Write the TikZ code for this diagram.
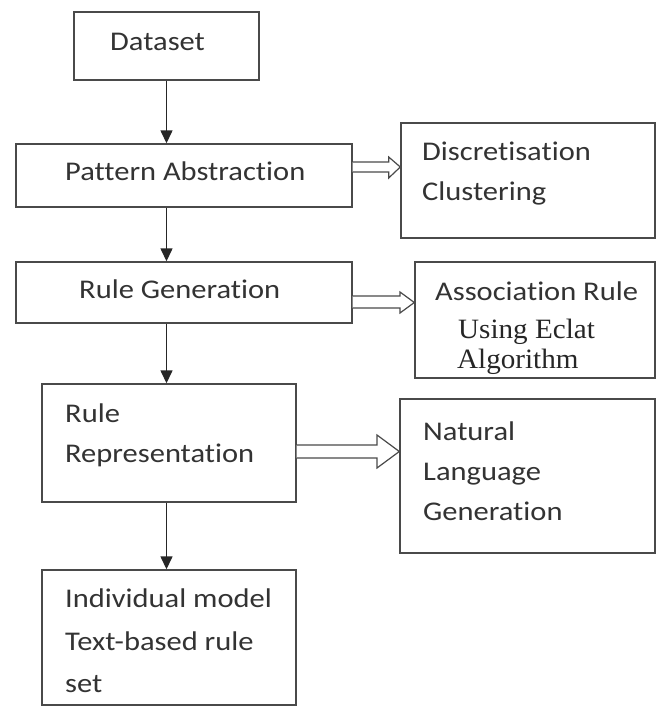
\documentclass[tikz,border=0pt]{standalone}
\usepackage{fontspec}
\setmainfont{Carlito}[Ligatures=NoCommon, FakeStretch=1.13]
\newfontfamily\timesf{Liberation Serif}[FakeStretch=1.04]
\usetikzlibrary{arrows.meta,calc}
\definecolor{boxline}{HTML}{4A4A4A}
\definecolor{txt}{HTML}{333333}
\tikzset{
  box/.style={draw=boxline, line width=1.4pt, fill=white, inner sep=0pt},
  lbl/.style={anchor=base west, inner sep=0pt, text=txt, font=\fontsize{27}{32}\selectfont},
  tlbl/.style={anchor=base west, inner sep=0pt, text=black!85, font=\timesf\fontsize{28}{32}\selectfont},
  flow/.style={draw=black!85, line width=1.4pt, -{Triangle[length=13pt,width=12pt]}},
  hollow/.style={draw=boxline, line width=1.2pt, fill=white, line join=miter}
}
\begin{document}
\begin{tikzpicture}[x=1pt,y=-1pt]
\useasboundingbox (0,0) rectangle (658,707);
\fill[white] (0,0) rectangle (658,707);
% boxes
\node[box, minimum width=185pt, minimum height=68pt] (ds) at (166.5,46) {};
\node[box, minimum width=336pt, minimum height=63pt] (pa) at (184,175.5) {};
\node[box, minimum width=336pt, minimum height=61pt] (rg) at (184,292.5) {};
\node[box, minimum width=254pt, minimum height=118pt] (rr) at (169,443) {};
\node[box, minimum width=254pt, minimum height=135pt] (im) at (169,637.5) {};
\node[box, minimum width=254pt, minimum height=115pt] (dc) at (528,180.5) {};
\node[box, minimum width=240pt, minimum height=116pt] (ar) at (535,320) {};
\node[box, minimum width=255pt, minimum height=154pt] (nl) at (527.5,476) {};
% texts
\node[lbl] (t1) at (110,50) {Dataset};
\node[lbl] (t2) at (65,180) {Pattern Abstraction};
\node[lbl] (t3) at (79,298) {Rule Generation};
\node[lbl] (t4a) at (65,422) {Rule};
\node[lbl] (t4b) at (65,462) {Representation};
\node[lbl] (t5a) at (65,607) {Individual model};
\node[lbl] (t5b) at (65,650) {Text-based rule};
\node[lbl] (t5c) at (65,692) {set};
\node[lbl] (t6a) at (422,160) {Discretisation};
\node[lbl] (t6b) at (422,200) {Clustering};
\node[lbl] (t7a) at (435,300) {Association Rule};
\node[tlbl] (t7b) at (458,338) {Using Eclat};
\node[tlbl] (t7c) at (457,368) {Algorithm};
\node[lbl] (t8a) at (423,440) {Natural};
\node[lbl] (t8b) at (423,480) {Language};
\node[lbl] (t8c) at (423,520) {Generation};
% vertical flow arrows
\draw[flow] (ds.south) -- (ds.south |- pa.north);
\draw[flow] (ds.south |- pa.south) -- (ds.south |- rg.north);
\draw[flow] (ds.south |- rg.south) -- (ds.south |- rr.north);
\draw[flow] (ds.south |- rr.south) -- (ds.south |- im.north);
% hollow block arrows
\draw[hollow] ($(pa.east)+(0,-13.5)$) -- ($(pa.east)+(36,-13.5)$) -- ($(pa.east)+(36,-18.5)$)
  -- (dc.west |- 0,167) -- ($(pa.east)+(36,2.5)$) -- ($(pa.east)+(36,-3.5)$) -- ($(pa.east)+(0,-3.5)$);
\draw[hollow] (rg.east |- 0,296) -- (400,296) -- (400,292) -- (ar.west |- 0,302.5)
  -- (400,313) -- (400,308) -- (rg.east |- 0,308);
\draw[hollow] (rr.east |- 0,445) -- (377,445) -- (377,435) -- (nl.west |- 0,451.5)
  -- (377,468) -- (377,458) -- (rr.east |- 0,458);
\end{tikzpicture}
\end{document}
